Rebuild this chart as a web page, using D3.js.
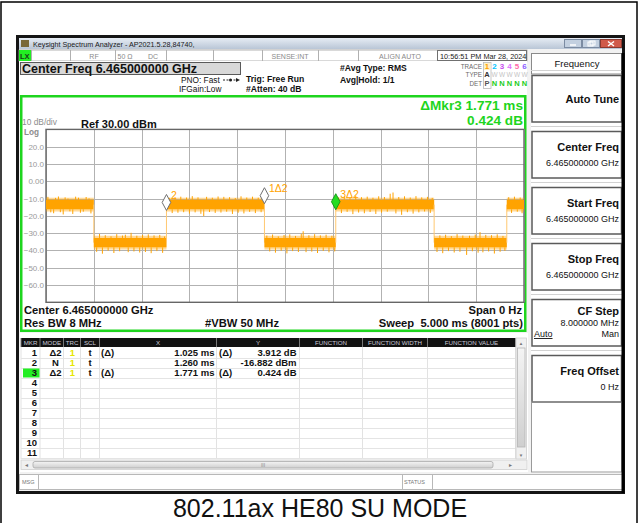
<!DOCTYPE html>
<html>
<head>
<meta charset="utf-8">
<script src="https://cdn.jsdelivr.net/npm/d3@7"></script>
<style>
  html, body { margin: 0; padding: 0; background: #fff; }
  svg { display: block; font-family: "Liberation Sans", Arial, sans-serif; }
  text { white-space: pre; }
</style>
</head>
<body>
<div id="app"></div>
<script>
// ---- chart data ----
const yTickValues = [20, 10, 0, -10, -20, -30, -40, -50, -60];
const xGridValues = [0, 0.5, 1, 1.5, 2, 2.5, 3, 3.5, 4, 4.5, 5];
const yGridValues = [30, 20, 10, 0, -10, -20, -30, -40, -50, -60, -70];

// burst on / off segments of the zero-span trace (ms, dBm)
const segStart  = [0, 0.5, 1.26, 2.285, 3.031, 4.06, 4.82];
const segEnd    = [0.5, 1.26, 2.285, 3.031, 4.06, 4.82, 5.0];
const segTop    = [-10.8, -32.8, -10.8, -32.8, -10.8, -32.8, -10.8];
const segBottom = [-16.2, -38.2, -16.2, -38.2, -16.2, -38.2, -16.2];

// noise peaks sticking out of the band [ms, dBm]
const spikes = [
  [0.02,-9.0],[0.05,-18.0],[0.08,-18.5],[0.10,-9.6],[0.13,-8.8],[0.15,-17.9],[0.18,-19.2],[0.20,-9.3],[0.23,-10.0],
  [0.25,-17.4],[0.28,-18.9],[0.31,-8.9],[0.34,-9.5],[0.36,-18.2],[0.39,-17.6],[0.42,-9.1],[0.45,-9.9],[0.47,-18.6],
  [0.53,-40.8],[0.56,-30.5],[0.59,-41.9],[0.62,-31.2],[0.65,-40.2],[0.68,-31.8],[0.71,-41.5],[0.74,-30.6],[0.77,-40.5],
  [0.80,-31.4],[0.83,-30.9],[0.86,-41.0],[0.89,-29.8],[0.92,-40.6],[0.95,-31.5],[0.98,-41.2],[1.01,-31.0],[1.04,-40.9],
  [1.07,-30.7],[1.10,-41.6],[1.13,-31.3],[1.16,-40.4],[1.19,-31.0],[1.22,-41.4],[1.24,-31.9],
  [1.29,-9.6],[1.32,-18.4],[1.35,-9.2],[1.38,-18.2],[1.41,-8.9],[1.44,-17.9],[1.47,-9.4],[1.50,-18.7],[1.53,-8.6],
  [1.56,-18.0],[1.59,-9.3],[1.62,-18.8],[1.65,-20.1],[1.68,-9.0],[1.71,-17.8],[1.74,-9.5],[1.77,-18.3],[1.80,-8.8],
  [1.83,-18.1],[1.86,-9.0],[1.89,-17.6],[1.92,-9.2],[1.95,-18.9],[1.98,-9.7],[2.01,-18.2],[2.04,-8.7],[2.07,-18.6],
  [2.10,-9.4],[2.13,-17.7],[2.16,-8.9],[2.19,-18.4],[2.22,-9.5],[2.25,-17.9],
  [2.31,-31.4],[2.34,-40.6],[2.37,-30.8],[2.40,-41.3],[2.43,-31.9],[2.46,-40.2],[2.49,-31.1],[2.52,-41.7],[2.55,-30.7],
  [2.58,-40.4],[2.61,-31.6],[2.64,-40.9],[2.67,-30.4],[2.69,-28.9],[2.72,-41.0],[2.75,-31.2],[2.78,-40.7],[2.81,-30.6],
  [2.84,-41.5],[2.87,-31.3],[2.90,-40.3],[2.93,-30.9],[2.96,-41.1],[2.99,-31.5],[3.02,-40.6],
  [3.06,-9.3],[3.09,-18.4],[3.12,-8.8],[3.15,-17.7],[3.18,-9.6],[3.21,-19.0],[3.24,-8.4],[3.27,-18.1],[3.30,-9.2],
  [3.33,-18.5],[3.36,-8.9],[3.39,-17.8],[3.42,-9.5],[3.45,-18.9],[3.48,-8.7],[3.51,-18.2],[3.54,-9.1],[3.57,-17.6],
  [3.60,-7.2],[3.63,-6.5],[3.66,-18.6],[3.69,-9.1],[3.72,-19.4],[3.75,-8.7],[3.78,-17.9],[3.81,-9.4],[3.84,-18.7],
  [3.87,-8.6],[3.90,-18.0],[3.93,-9.3],[3.96,-17.5],[3.99,-9.0],[4.02,-18.3],[4.04,-9.6],
  [4.09,-40.9],[4.12,-31.3],[4.15,-41.6],[4.18,-30.9],[4.21,-40.4],[4.24,-31.7],[4.27,-41.2],[4.30,-30.6],[4.33,-40.8],
  [4.36,-31.4],[4.40,-42.6],[4.43,-31.5],[4.46,-40.5],[4.49,-30.8],[4.52,-41.3],[4.54,-29.4],[4.57,-41.1],[4.60,-31.0],
  [4.63,-40.6],[4.66,-31.2],[4.69,-41.8],[4.72,-30.7],[4.75,-40.8],[4.78,-31.6],[4.80,-40.3],
  [4.84,-9.2],[4.87,-18.3],[4.90,-8.9],[4.93,-17.6],[4.96,-9.4],[4.98,-18.5]
];

// markers
const markerName  = ["1Δ2", "2", "3Δ2"];
const markerTime  = [2.285, 1.260, 3.031];
const markerLevel = [-12.970, -16.882, -16.458];

// marker table
const tableHeads = ["MKR", "MODE", "TRC", "SCL", "X", "Y", "FUNCTION", "FUNCTION WIDTH", "FUNCTION VALUE"];
const tableMode  = ["Δ2", "N", "Δ2"];
const tableX     = ["1.025 ms", "1.260 ms", "1.771 ms"];
const tableY     = ["3.912 dB", "-16.882 dBm", "0.424 dB"];
const tableRel   = [true, false, true];

// softkeys
const softkeyTitle = ["Auto Tune", "Center Freq", "Start Freq", "Stop Freq", "CF Step", "Freq Offset"];
const softkeyValue = ["", "6.465000000 GHz", "6.465000000 GHz", "6.465000000 GHz", "8.000000 MHz", "0 Hz"];

const traceDigits = ["1", "2", "3", "4", "5", "6"];

// ---- drawing ----
const W = 639, H = 523;
const ORANGE = "#ffa300";
const GREEN = "#1ed51e";

const svg = d3.select("#app").append("svg")
  .attr("width", W).attr("height", H)
  .attr("viewBox", `0 0 ${W} ${H}`);

const defs = svg.append("defs");
const tbGrad = defs.append("linearGradient").attr("id", "tb").attr("x1", 0).attr("y1", 0).attr("x2", 0).attr("y2", 1);
tbGrad.append("stop").attr("offset", "0%").attr("stop-color", "#e6ecf4");
tbGrad.append("stop").attr("offset", "100%").attr("stop-color", "#b9c6d6");
const sbGrad = defs.append("linearGradient").attr("id", "sb").attr("x1", 0).attr("y1", 0).attr("x2", 0).attr("y2", 1);
sbGrad.append("stop").attr("offset", "0%").attr("stop-color", "#f4f4f4");
sbGrad.append("stop").attr("offset", "100%").attr("stop-color", "#cfcfcf");

function txt(p, x, y, s, size, o = {}) {
  return p.append("text")
    .attr("x", x).attr("y", y)
    .attr("font-size", size)
    .attr("font-weight", o.bold ? "bold" : null)
    .attr("fill", o.fill || "#000")
    .attr("text-anchor", o.anchor || "start")
    .text(s);
}
function box(p, x, y, w, h, fill, stroke, sw) {
  return p.append("rect").attr("x", x).attr("y", y).attr("width", w).attr("height", h)
    .attr("fill", fill).attr("stroke", stroke || "none").attr("stroke-width", sw || 1);
}

// page frame
box(svg, 1, 2, 636, 540, "#fff", "#000", 1.5);

// screenshot frame
box(svg, 17.5, 36.5, 606, 456, "#f2f2f2", "#151515", 3);

// title bar
box(svg, 19, 38, 603, 11, "url(#tb)");
box(svg, 21, 40, 8, 7, "#7a6838");
txt(svg, 33, 46.5, "Keysight Spectrum Analyzer - AP2021.5.28,84740,", 7.2, { fill: "#1a1a1a" });
// window buttons
box(svg, 564.5, 39.5, 17, 8, "#c3d0e0", "#7b8ba2");
svg.append("line").attr("x1", 570).attr("x2", 576).attr("y1", 45).attr("y2", 45).attr("stroke", "#fff").attr("stroke-width", 1.5);
box(svg, 582.5, 39.5, 17, 8, "#c3d0e0", "#7b8ba2");
box(svg, 588, 42, 5, 4, "none", "#fff", 1);
box(svg, 590, 41, 5, 4, "none", "#fff", 1);
box(svg, 600.5, 39.5, 21, 8, "#d05a4a", "#8a3a30");
svg.append("path").attr("d", "M608,41.5 L614,46 M614,41.5 L608,46").attr("stroke", "#fff").attr("stroke-width", 1.5);

// status row
box(svg, 19, 50, 508, 11, "#fff", "#a0a0a0", 0.8);
box(svg, 19, 50, 12, 11, "#22ee22");
txt(svg, 20, 58.5, "LX", 7.5, { bold: true, fill: "#1a3a1a" });
[31, 70, 115, 166, 213, 262, 318, 358, 437].forEach(x =>
  svg.append("line").attr("x1", x + 0.5).attr("x2", x + 0.5).attr("y1", 50).attr("y2", 61).attr("stroke", "#b0b0b0"));
box(svg, 437.5, 50.5, 89, 10, "none", "#707070", 1);
txt(svg, 94, 58.5, "RF", 7, { fill: "#8a8a8a", anchor: "middle" });
txt(svg, 125, 58.5, "50 Ω", 7, { fill: "#8a8a8a", anchor: "middle" });
txt(svg, 153, 58.5, "DC", 7, { fill: "#8a8a8a", anchor: "middle" });
txt(svg, 290, 58.5, "SENSE:INT", 7, { fill: "#8a8a8a", anchor: "middle" });
txt(svg, 400, 58.5, "ALIGN AUTO", 7, { fill: "#8a8a8a", anchor: "middle" });
txt(svg, 440, 58.5, "10:56:51 PM Mar 28, 2024", 7.3, { fill: "#1a1a1a" });

// settings header
box(svg, 19, 61, 508, 34, "#fff");
box(svg, 20.5, 62.5, 220, 12, "#d8d8d8", "#5a5a5a", 1);
txt(svg, 22, 73.2, "Center Freq 6.465000000 GHz", 12.5, { bold: true, fill: "#111" });
txt(svg, 181, 83, "PNO: Fast", 8.3, { fill: "#111" });
txt(svg, 179, 91.5, "IFGain:Low", 8.3, { fill: "#111" });
svg.append("line").attr("x1", 223).attr("x2", 238).attr("y1", 80).attr("y2", 80).attr("stroke", "#222").attr("stroke-dasharray", "2,1.5");
svg.append("circle").attr("cx", 230.5).attr("cy", 80).attr("r", 1.5).attr("fill", "#222");
svg.append("path").attr("d", "M236,78 L240,80 L236,82 Z").attr("fill", "#222");
txt(svg, 246, 81.5, "Trig: Free Run", 8.6, { bold: true, fill: "#111" });
txt(svg, 246, 92, "#Atten: 40 dB", 8.6, { bold: true, fill: "#111" });
txt(svg, 340, 71, "#Avg Type: RMS", 8.6, { bold: true, fill: "#111" });
txt(svg, 340, 82.5, "Avg|Hold: 1/1", 8.6, { bold: true, fill: "#111" });

// trace / type / det block
txt(svg, 482, 68.5, "TRACE", 6.3, { fill: "#6a6a6a", anchor: "end" });
txt(svg, 482, 76.5, "TYPE", 6.3, { fill: "#6a6a6a", anchor: "end" });
txt(svg, 482, 85.5, "DET", 6.3, { fill: "#6a6a6a", anchor: "end" });
box(svg, 483.5, 62.5, 7.5, 26, "none", "#b8b8b8", 0.8);
box(svg, 484, 63, 6.5, 7, "#fff2c8");
const traceColors = [ORANGE, "#00c4ff", "#c84cf0", "#e070ff", "#ff6aa8", "#8a5cff"];
traceDigits.forEach((d, i) => {
  const cx = 487 + i * 7.5;
  txt(svg, cx, 69, d, 8, { bold: true, fill: traceColors[i], anchor: "middle" });
  txt(svg, cx, 77, i === 0 ? "A" : "W", i === 0 ? 7.5 : 6.5, { bold: i === 0, fill: i === 0 ? "#333" : "#c4c4c4", anchor: "middle" });
  txt(svg, cx, 86, i === 0 ? "P" : "N", 7.5, { bold: true, fill: i === 0 ? "#555" : "#22cc22", anchor: "middle" });
});

// graph panel
box(svg, 21.25, 96.25, 504, 234.5, "#fff", GREEN, 2.5);
txt(svg, 523, 109.5, "ΔMkr3 1.771 ms", 13.6, { bold: true, fill: GREEN, anchor: "end" });
txt(svg, 523, 124.5, "0.424 dB", 13.6, { bold: true, fill: GREEN, anchor: "end" });
txt(svg, 22, 125, "10 dB/div", 8.4, { fill: "#8c8c8c" });
txt(svg, 24, 135, "Log", 8.2, { bold: true, fill: "#8c8c8c" });
txt(svg, 81, 127.5, "Ref 30.00 dBm", 11, { bold: true, fill: "#111" });

const xTime = d3.scaleLinear().domain([0, 5]).range([46, 524]);
const yLevel = d3.scaleLinear().domain([30, -70]).range([129.4, 302.3]);
const plotW = xTime(5) - xTime(0), plotH = yLevel(-70) - yLevel(30);

const plot = svg.append("g");
const gridX = plot.append("g").attr("transform", `translate(0,${yLevel(-70)})`)
  .call(d3.axisBottom(xTime).tickValues(xGridValues).tickSize(-plotH).tickFormat(""));
const gridY = plot.append("g").attr("transform", `translate(${xTime(0)},0)`)
  .call(d3.axisLeft(yLevel).tickValues(yGridValues).tickSize(-plotW).tickFormat(""));
[gridX, gridY].forEach(g => {
  g.select(".domain").remove();
  g.selectAll(".tick line").attr("stroke", "#b2b2b2").attr("stroke-width", 1).attr("shape-rendering", "crispEdges");
});
plot.append("rect").attr("x", xTime(0)).attr("y", yLevel(30)).attr("width", plotW).attr("height", plotH)
  .attr("fill", "none").attr("stroke", "#666").attr("stroke-width", 1.4);

// y tick labels
const yAxis = plot.append("g").attr("transform", `translate(44,0)`)
  .call(d3.axisLeft(yLevel).tickValues(yTickValues).tickSize(0).tickPadding(0)
    .tickFormat(d => d === 0 ? "0.00" : d3.format(".1f")(d)));
yAxis.select(".domain").remove();
yAxis.selectAll("text").attr("font-size", 8).attr("fill", "#9a9a9a")
  .attr("font-family", "Liberation Sans, Arial, sans-serif");

// trace
defs.append("clipPath").attr("id", "plotClip").append("rect")
  .attr("x", xTime(0)).attr("y", yLevel(30)).attr("width", plotW).attr("height", plotH);
const trace = plot.append("g").attr("clip-path", "url(#plotClip)");
const segMid = segTop.map((v, i) => (v + segBottom[i]) / 2);

segStart.forEach((s, i) => {
  if (i > 0) {
    trace.append("line").attr("x1", xTime(s)).attr("x2", xTime(s))
      .attr("y1", yLevel(segMid[i - 1])).attr("y2", yLevel(segMid[i]))
      .attr("stroke", "#ffc870").attr("stroke-width", 1);
  }
  trace.append("rect")
    .attr("x", xTime(s)).attr("width", xTime(segEnd[i]) - xTime(s))
    .attr("y", yLevel(segTop[i] + 1.3)).attr("height", yLevel(segBottom[i] - 1.3) - yLevel(segTop[i] + 1.3))
    .attr("fill", ORANGE).attr("opacity", 0.4);
  trace.append("rect")
    .attr("x", xTime(s)).attr("width", xTime(segEnd[i]) - xTime(s))
    .attr("y", yLevel(segTop[i])).attr("height", yLevel(segBottom[i]) - yLevel(segTop[i]))
    .attr("fill", ORANGE);
});
trace.selectAll("line.spike").data(spikes).join("line")
  .attr("class", "spike")
  .attr("x1", d => xTime(d[0])).attr("x2", d => xTime(d[0]))
  .attr("y1", d => {
    const k = d3.bisectRight(segStart, d[0]) - 1;
    return yLevel(d[1] > segMid[k] ? segTop[k] : segBottom[k]);
  })
  .attr("y2", d => yLevel(d[1]))
  .attr("stroke", ORANGE).attr("stroke-width", 1);

// markers
markerName.forEach((name, i) => {
  const mx = xTime(markerTime[i]), my = yLevel(markerLevel[i]);
  const active = i === 2;
  plot.append("path")
    .attr("d", `M${mx},${my} L${mx + 4.3},${my - 8} L${mx},${my - 16} L${mx - 4.3},${my - 8} Z`)
    .attr("fill", active ? "#22dd22" : "#fff").attr("stroke", active ? "#1a9a1a" : "#707070").attr("stroke-width", 1);
  txt(plot, mx + 4.5, my - 11.5, name, 10.5, { fill: ORANGE });
});

// bottom annotations
txt(svg, 24, 313.5, "Center 6.465000000 GHz", 11.2, { bold: true, fill: "#111" });
txt(svg, 522, 313.5, "Span 0 Hz", 11.2, { bold: true, fill: "#111", anchor: "end" });
txt(svg, 24, 326.5, "Res BW 8 MHz", 11.2, { bold: true, fill: "#111" });
txt(svg, 205, 326.5, "#VBW 50 MHz", 11.2, { bold: true, fill: "#111" });
txt(svg, 523, 326.5, "Sweep  5.000 ms (8001 pts)", 11.2, { bold: true, fill: "#111", anchor: "end" });

// marker table
const colEdges = [21, 40, 63.5, 80.5, 99.5, 216.5, 299.5, 362.5, 427.5, 515.5];
box(svg, 20, 333, 508, 139, "#fff");
box(svg, 21, 338, 495, 9, "#111");
tableHeads.forEach((h, i) => {
  txt(svg, (colEdges[i] + colEdges[i + 1]) / 2, 345, h, 6.2, { fill: "#c8c8d8", anchor: "middle" });
});
colEdges.forEach(x => {
  svg.append("line").attr("x1", x).attr("x2", x).attr("y1", 338).attr("y2", 347).attr("stroke", "#777").attr("stroke-width", 1);
  svg.append("line").attr("x1", x).attr("x2", x).attr("y1", 347).attr("y2", 459).attr("stroke", "#e2e2e2").attr("stroke-width", 1);
});
const rowH = 10, row0 = 348;
d3.range(11).forEach(r => {
  const yb = row0 + r * rowH;
  svg.append("line").attr("x1", 21).attr("x2", 515.5).attr("y1", yb + rowH + 0.5).attr("y2", yb + rowH + 0.5)
    .attr("stroke", "#e4e4e4");
  if (r === 2) box(svg, 23, yb + 0.5, 16.5, 9, "#22ee22");
  txt(svg, 37, yb + 8.3, String(r + 1), 9.5, { bold: true, fill: "#111", anchor: "end" });
});
tableMode.forEach((m, r) => {
  const yb = row0 + r * rowH + 8.3;
  txt(svg, 55.5, yb, m, 9.5, { bold: true, fill: "#111", anchor: "middle" });
  txt(svg, 72.5, yb, "1", 9.5, { bold: true, fill: "#e6e600", anchor: "middle" });
  txt(svg, 90, yb, "t", 9.5, { bold: true, fill: "#111", anchor: "middle" });
  if (tableRel[r]) {
    txt(svg, 101, yb, "(Δ)", 9.5, { bold: true, fill: "#111" });
    txt(svg, 219, yb, "(Δ)", 9.5, { bold: true, fill: "#111" });
  }
  txt(svg, 214.5, yb, tableX[r], 9.5, { bold: true, fill: "#111", anchor: "end" });
  txt(svg, 296.5, yb, tableY[r], 9.5, { bold: true, fill: "#111", anchor: "end" });
});
// vertical scrollbar
box(svg, 516, 338, 10.5, 121, "#f0f0f0", "#cfcfcf", 0.8);
box(svg, 517.5, 348, 7.5, 99, "url(#sb)", "#b5b5b5", 0.8);
txt(svg, 521, 345, "▲", 4.5, { fill: "#777", anchor: "middle" });
txt(svg, 521, 457, "▼", 4.5, { fill: "#777", anchor: "middle" });
// horizontal scrollbar
box(svg, 21, 460, 506, 9.5, "#f0f0f0", "#cfcfcf", 0.8);
svg.append("rect").attr("x", 33).attr("y", 461.5).attr("width", 460).attr("height", 6.5).attr("rx", 2)
  .attr("fill", "url(#sb)").attr("stroke", "#a9a9a9").attr("stroke-width", 0.8);
txt(svg, 263, 467, "III", 5, { fill: "#888", anchor: "middle" });
txt(svg, 26, 467, "◂", 6, { fill: "#777", anchor: "middle" });
txt(svg, 510, 467, "▸", 6, { fill: "#777", anchor: "middle" });

// message / status row
box(svg, 19.5, 474.5, 603, 15, "#fff", "#a8a8a8", 0.8);
svg.append("line").attr("x1", 38.5).attr("x2", 38.5).attr("y1", 474.5).attr("y2", 489.5).attr("stroke", "#b8b8b8");
svg.append("line").attr("x1", 402.5).attr("x2", 402.5).attr("y1", 474.5).attr("y2", 489.5).attr("stroke", "#b8b8b8");
svg.append("line").attr("x1", 432.5).attr("x2", 432.5).attr("y1", 474.5).attr("y2", 489.5).attr("stroke", "#b8b8b8");
txt(svg, 22, 484, "MSG", 5.5, { fill: "#777" });
txt(svg, 404, 484, "STATUS", 5.5, { fill: "#777" });

// softkey panel
box(svg, 531, 53, 91, 420, "#fff");
box(svg, 531.5, 53.5, 90, 20.5, "#fff", "#8a8a8a", 1);
txt(svg, 577, 67, "Frequency", 9.5, { fill: "#111", anchor: "middle" });
const keyTop = [75, 131, 187, 243, 299, 355];
keyTop.forEach(y0 => {
  svg.append("line").attr("x1", 531).attr("x2", 622).attr("y1", y0 - 4.5).attr("y2", y0 - 4.5).attr("stroke", "#d2d2d2");
});
softkeyTitle.forEach((ttl, i) => {
  const y0 = keyTop[i];
  box(svg, 532, y0 + 0.5, 89.5, 46.5, "#fff", "#5a5a5a", 1.5);
  if (i === 0) {
    txt(svg, 619, y0 + 28, ttl, 11, { bold: true, fill: "#111", anchor: "end" });
  } else if (i === 4) {
    txt(svg, 619, y0 + 16, ttl, 11, { bold: true, fill: "#111", anchor: "end" });
    txt(svg, 619, y0 + 27, softkeyValue[i], 9, { fill: "#111", anchor: "end" });
    txt(svg, 534, y0 + 38, "Auto", 9, { fill: "#111" }).attr("text-decoration", "underline");
    txt(svg, 619, y0 + 38, "Man", 9, { fill: "#111", anchor: "end" });
  } else {
    txt(svg, 619, y0 + 20, ttl, 11, { bold: true, fill: "#111", anchor: "end" });
    txt(svg, 619, y0 + 35, softkeyValue[i], 9, { fill: "#111", anchor: "end" });
  }
});
box(svg, 531.5, 402, 90, 70, "none", "#9a9a9a", 1);
svg.append("line").attr("x1", 623).attr("x2", 623).attr("y1", 53).attr("y2", 493).attr("stroke", "#000").attr("stroke-width", 3);

// caption
txt(svg, 320, 517, "802.11ax HE80 SU MODE", 25, { fill: "#111", anchor: "middle" });
</script>
</body>
</html>
